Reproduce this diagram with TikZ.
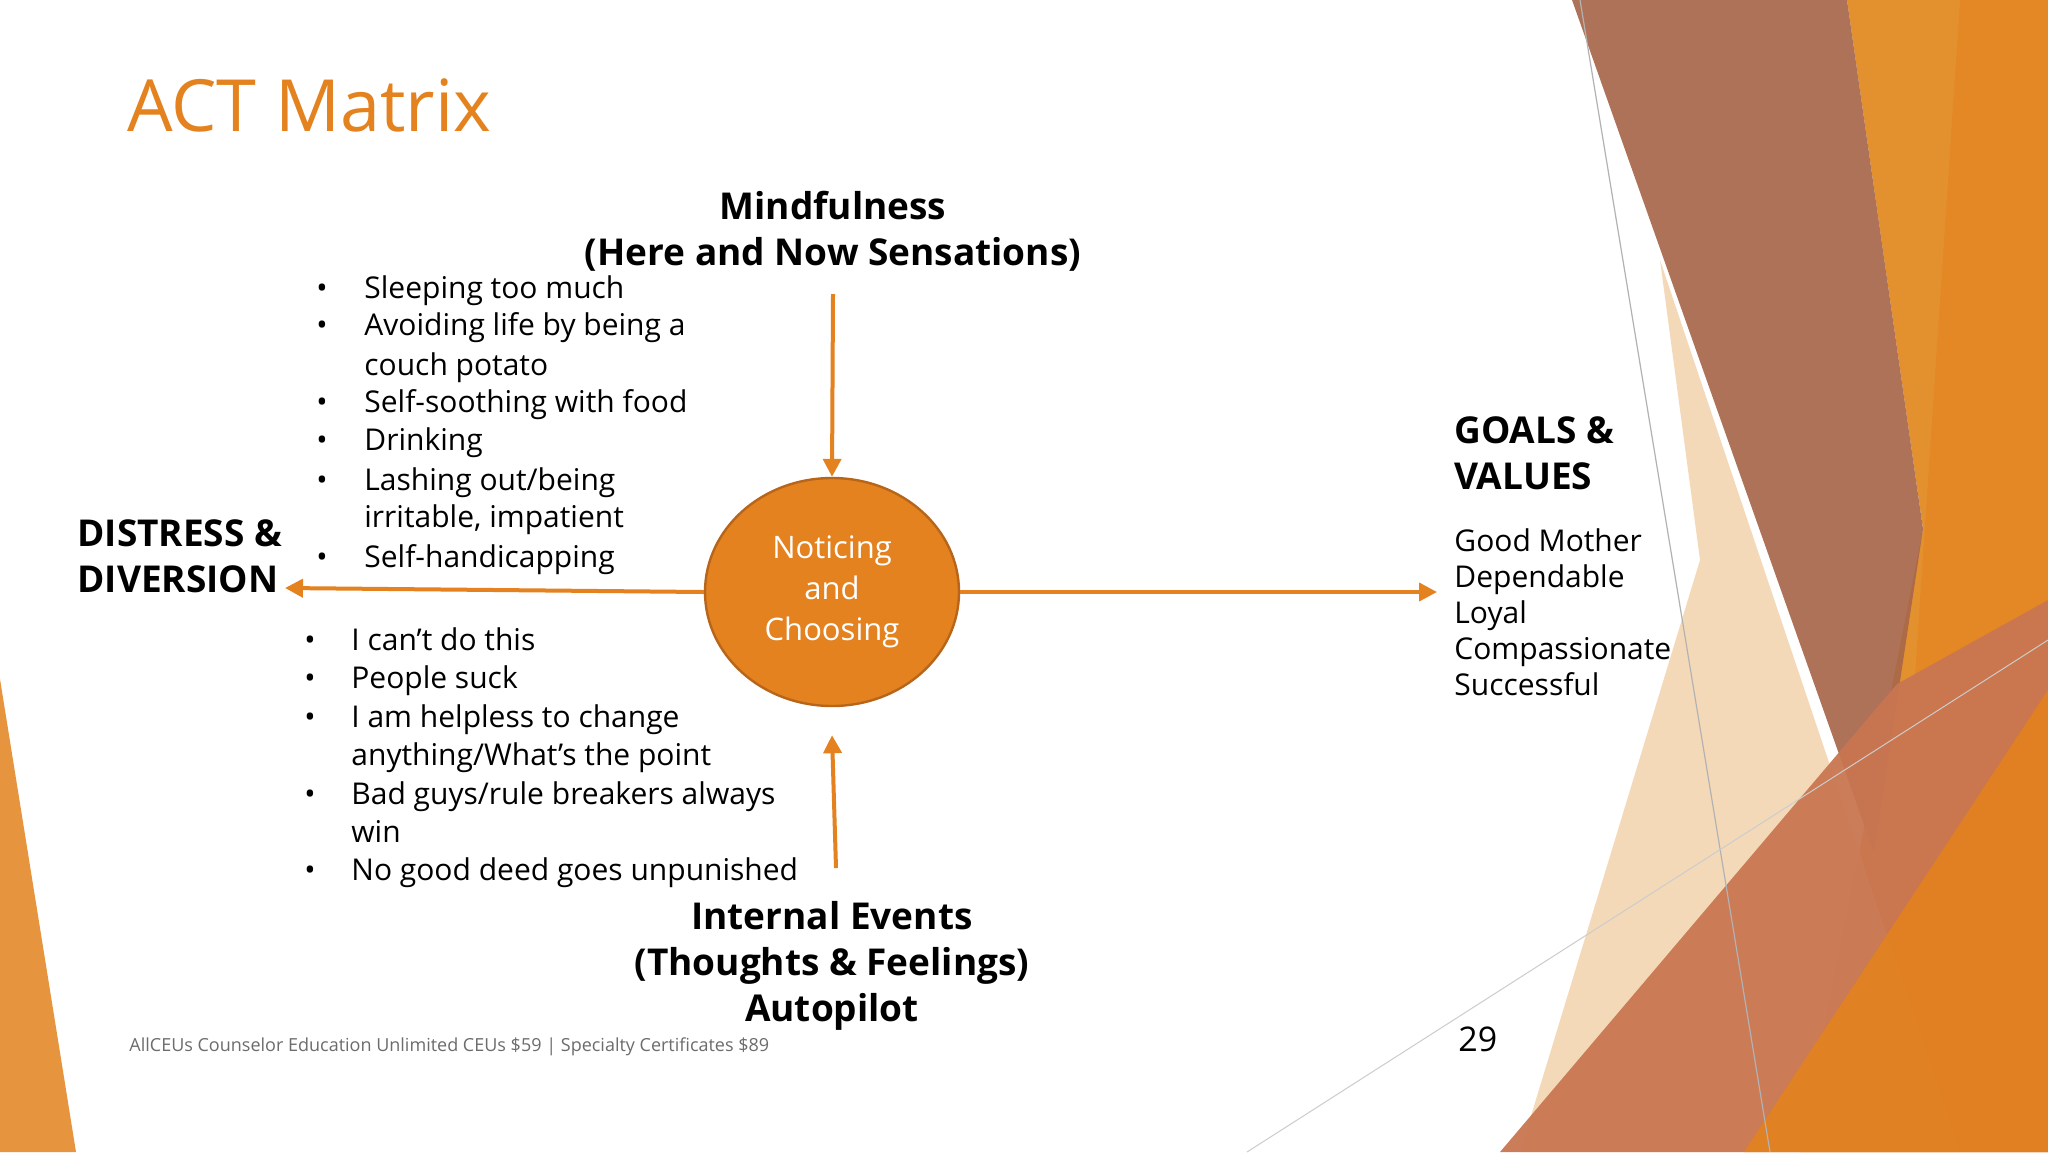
\documentclass[tikz,border=0pt]{standalone}
\usepackage{fontspec}
\setmainfont{Open Sans}
\usetikzlibrary{arrows.meta,shapes.geometric}
\definecolor{org}{HTML}{E3821E}
\definecolor{orgd}{HTML}{B8651A}
\definecolor{brn}{HTML}{A8674A}
\definecolor{terra}{HTML}{C97651}
\definecolor{peach}{HTML}{F3D3AC}
\definecolor{lorg}{HTML}{E3912F}
\begin{document}
\begin{tikzpicture}[x=0.5pt,y=-0.5pt,
  body/.style={font=\fontsize{15}{18}\selectfont,anchor=mid west,inner sep=0},
  head/.style={font=\bfseries\fontsize{18.5}{23}\selectfont,inner sep=0},
  arr/.style={draw=org,line width=2pt,-{Triangle[length=9pt,width=9pt]}}]
\useasboundingbox (0,0) rectangle (2048,1152);
\fill[white] (0,0) rectangle (2048,1152);
% background facets
\fill[lorg] (1847,0) -- (2048,0) -- (2048,1152) -- (1800,1152) -- (1923,529) -- cycle;
\fill[org,opacity=0.6] (1960,0) -- (2048,0) -- (2048,700) -- (1900,900) -- cycle;
\fill[peach,opacity=0.85] (1660,260) -- (1960,1152) -- (1520,1152) -- (1700,560) -- cycle;
\fill[brn,opacity=0.92] (1572,0) -- (1847,0) -- (1923,529) -- (1874,853) -- cycle;
\fill[terra,opacity=0.95] (1500,1152) -- (1897,684) -- (2048,600) -- (2048,1152) -- cycle;
\fill[org,opacity=0.9] (1744,1152) -- (2048,690) -- (2048,1152) -- cycle;
\fill[org,opacity=0.85] (0,679) -- (76,1152) -- (0,1152) -- cycle;
\draw[gray!60,line width=0.6pt] (1580,0) -- (1770,1152);
\draw[gray!40,line width=0.5pt] (1247,1152) -- (2048,640);
% title
\node[anchor=mid west,inner sep=0,text=org,font=\fontsize{36}{42}\selectfont] (title) at (127,126) {ACT Matrix};
% headers
\node[head,align=center] (mind) at (833,231) {Mindfulness\\(Here and Now Sensations)};
\node[head,align=center] (int) at (832,966) {Internal Events\\(Thoughts \& Feelings)\\Autopilot};
\node[head,align=left,anchor=mid west] (dist) at (77,587) {DISTRESS \&\\DIVERSION};
\node[head,align=left,anchor=mid west] (goals) at (1454,484) {GOALS \&\\VALUES};
% circle
\node[ellipse,minimum width=127pt,minimum height=114pt,fill=org,draw=orgd,line width=1.2pt,text=white,
  align=center,font=\fontsize{15.5}{20.5}\selectfont,inner sep=0] (c) at (832,592) {Noticing\\and\\Choosing};
\coordinate (tt) at (833,294);
\coordinate (bb) at (836,868);
\coordinate (ll) at (285,588);
\coordinate (rr) at (1437,592);
\draw[arr] (tt) -- (c.north);
\draw[arr] (bb) -- ([yshift=-14pt]c.south);
\draw[arr] (c.west) -- (ll);
\draw[arr] (c.east) -- (rr);
% top bullets
\foreach \t [count=\i] in {Sleeping too much,Avoiding life by being a,couch potato,Self-soothing with food,Drinking,Lashing out/being,{irritable, impatient},Self-handicapping}{
  \pgfmathsetmacro{\yy}{{293,330,370,407,445,485,522,562}[\i-1]}
  \node[body] (tb\i) at (364,\yy) {\t};
}
\foreach \i/\yy in {1/293,2/330,4/407,5/445,6/485,8/562}{\node[body] (tbb\i) at (316,\yy) {•};}
% bottom bullets
\foreach \t [count=\i] in {I can’t do this,People suck,I am helpless to change,anything/What’s the point,Bad guys/rule breakers always,win,No good deed goes unpunished}{
  \pgfmathsetmacro{\yy}{{645,683,722,760,799,837,875}[\i-1]}
  \node[body] (bt\i) at (351,\yy) {\t};
}
\foreach \i/\yy in {1/645,2/683,3/722,5/799,7/875}{\node[body] (btb\i) at (304,\yy) {•};}
% values
\foreach \t [count=\i] in {Good Mother,Dependable,Loyal,Compassionate,Successful}{
  \pgfmathsetmacro{\yy}{546+36*(\i-1)}
  \node[body] (v\i) at (1454,\yy) {\t};
}
% footer
\node[anchor=mid west,inner sep=0,text=gray!85!black,font=\fontsize{9}{11}\selectfont] (foot) at (129,1046) {AllCEUs Counselor Education Unlimited CEUs \$59 | Specialty Certificates \$89};
\node[anchor=mid west,inner sep=0,font=\fontsize{17}{20}\selectfont] (pg) at (1458,1046) {29};
\end{tikzpicture}
\end{document}
